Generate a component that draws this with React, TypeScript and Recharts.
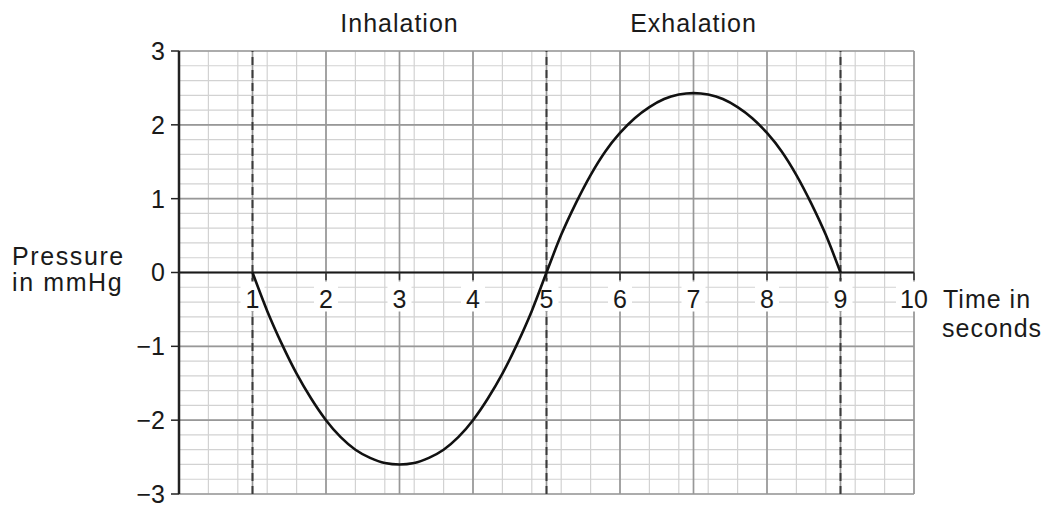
import React from 'react';
import {
  ComposedChart,
  Line,
  XAxis,
  YAxis,
  CartesianGrid,
  ReferenceLine,
  ReferenceDot,
} from 'recharts';

// ---- Data ----
const timeValues = [
  1, 1.2, 1.4, 1.6, 1.8, 2, 2.2, 2.4, 2.6, 2.8, 3, 3.2, 3.4, 3.6, 3.8, 4, 4.2, 4.4, 4.6, 4.8,
  5, 5.2, 5.4, 5.6, 5.8, 6, 6.2, 6.4, 6.6, 6.8, 7, 7.2, 7.4, 7.6, 7.8, 8, 8.2, 8.4, 8.6, 8.8, 9,
];
const pressureValues = [
  0, -0.52, -0.97, -1.37, -1.71, -2.0, -2.23, -2.4, -2.51, -2.58, -2.6, -2.58, -2.51, -2.4, -2.23,
  -2.0, -1.71, -1.37, -0.97, -0.52,
  0, 0.51, 0.94, 1.32, 1.64, 1.89, 2.09, 2.24, 2.35, 2.41, 2.43, 2.41, 2.35, 2.24, 2.09, 1.89, 1.64,
  1.32, 0.94, 0.51, 0,
];
const xTickValues = [1, 2, 3, 4, 5, 6, 7, 8, 9, 10];
const xTickMarkValues = [0, 1, 2, 3, 4, 5, 6, 7, 8, 9, 10];
const yTickValues = [-3, -2, -1, 0, 1, 2, 3];
const phaseBoundaries = [1, 5, 9];
const phaseNames = ['Inhalation', 'Exhalation'];
const phaseCentres = [3, 7];
const yAxisTitle = ['Pressure', 'in mmHg'];
const xAxisTitle = ['Time in', 'seconds'];

const majorXValues = [0, 1, 2, 3, 4, 5, 6, 7, 8, 9, 10];
const majorYValues = [-3, -2, -1, 0, 1, 2, 3];
const minorXValues = Array.from({ length: 51 }, (_, i) => Math.round(i * 2) / 10);
const minorYValues = Array.from({ length: 31 }, (_, i) => Math.round(-30 + i * 2) / 10);

const chartData = timeValues.map((t, i) => ({ time: t, pressure: pressureValues[i] }));

const FONT = '"Liberation Sans", Arial, Helvetica, sans-serif';
const FONT_SIZE = 25;
const TEXT_COLOR = '#1a1a1a';

const fmt = (v: number) => (v < 0 ? `\u2212${Math.abs(v)}` : `${v}`);

const XTickLabel = (props: any) => {
  const { viewBox, text } = props;
  if (!viewBox) return null;
  const cx = viewBox.x + viewBox.width / 2;
  const cy = viewBox.y + viewBox.height / 2;
  const w = String(text).length > 1 ? 36 : 24;
  return (
    <g>
      <rect x={cx - w / 2} y={cy + 9} width={w} height={30} fill="#ffffff" />
      <text
        x={cx}
        y={cy + 35}
        textAnchor="middle"
        fontFamily={FONT}
        fontSize={FONT_SIZE}
        fill={TEXT_COLOR}
      >
        {text}
      </text>
    </g>
  );
};

const PhaseLabel = (props: any) => {
  const { viewBox, text } = props;
  if (!viewBox) return null;
  const cx = viewBox.x + viewBox.width / 2;
  const cy = viewBox.y + viewBox.height / 2;
  return (
    <text
      x={cx}
      y={cy - 19}
      textAnchor="middle"
      fontFamily={FONT}
      fontSize={FONT_SIZE}
      letterSpacing={1}
      fill={TEXT_COLOR}
    >
      {text}
    </text>
  );
};

const YTitle = (props: any) => {
  const { viewBox } = props;
  if (!viewBox) return null;
  const cx = viewBox.x + viewBox.width / 2;
  const cy = viewBox.y + viewBox.height / 2;
  return (
    <text fontFamily={FONT} fontSize={FONT_SIZE} letterSpacing={1.6} fill={TEXT_COLOR}>
      <tspan x={cx - 167} y={cy - 8}>
        {yAxisTitle[0]}
      </tspan>
      <tspan x={cx - 167} y={cy + 18}>
        {yAxisTitle[1]}
      </tspan>
    </text>
  );
};

const XTitle = (props: any) => {
  const { viewBox } = props;
  if (!viewBox) return null;
  const cx = viewBox.x + viewBox.width / 2;
  const cy = viewBox.y + viewBox.height / 2;
  return (
    <text fontFamily={FONT} fontSize={FONT_SIZE} letterSpacing={1} fill={TEXT_COLOR}>
      <tspan x={cx + 29} y={cy + 35}>
        {xAxisTitle[0]}
      </tspan>
      <tspan x={cx + 28} y={cy + 64}>
        {xAxisTitle[1]}
      </tspan>
    </text>
  );
};

export default function App() {
  return (
    <div style={{ width: 1040, height: 500, background: '#ffffff' }}>
      <ComposedChart
        width={1040}
        height={500}
        data={chartData}
        margin={{ top: 43, right: 134, bottom: 14, left: 0 }}
      >
        <CartesianGrid
          verticalValues={minorXValues}
          horizontalValues={minorYValues}
          stroke="#d2d2d2"
          strokeWidth={1.2}
        />
        <CartesianGrid
          verticalValues={majorXValues}
          horizontalValues={majorYValues}
          stroke="#989898"
          strokeWidth={1.7}
        />
        <XAxis dataKey="time" type="number" domain={[0, 10]} hide />
        <YAxis
          type="number"
          domain={[-3, 3]}
          ticks={yTickValues}
          interval={0}
          width={171}
          tickFormatter={fmt}
          tickSize={8}
          tickMargin={6}
          axisLine={{ stroke: '#222', strokeWidth: 2.5 }}
          tickLine={{ stroke: '#222', strokeWidth: 1.5 }}
          tick={{ fill: TEXT_COLOR, fontSize: FONT_SIZE, fontFamily: FONT }}
        />
        {phaseBoundaries.map((b) => (
          <ReferenceLine
            key={`pb-${b}`}
            x={b}
            stroke="#3a3a3a"
            strokeWidth={2}
            strokeDasharray="8 5"
          />
        ))}
        <ReferenceLine y={0} stroke="#1a1a1a" strokeWidth={2.2} />
        {xTickMarkValues.map((k) => (
          <ReferenceLine
            key={`tm-${k}`}
            segment={[
              { x: k, y: 0 },
              { x: k, y: -0.1 },
            ]}
            stroke="#333"
            strokeWidth={1.5}
          />
        ))}
        {xTickValues.map((k) => (
          <ReferenceDot
            key={`xl-${k}`}
            x={k}
            y={0}
            r={0}
            fill="none"
            stroke="none"
            label={<XTickLabel text={k} />}
          />
        ))}
        {phaseNames.map((n, i) => (
          <ReferenceDot
            key={`ph-${n}`}
            x={phaseCentres[i]}
            y={3}
            r={0}
            fill="none"
            stroke="none"
            label={<PhaseLabel text={n} />}
          />
        ))}
        <ReferenceDot x={0} y={0} r={0} fill="none" stroke="none" label={<YTitle />} />
        <ReferenceDot x={10} y={0} r={0} fill="none" stroke="none" label={<XTitle />} />
        <Line
          type="monotone"
          dataKey="pressure"
          stroke="#111111"
          strokeWidth={2.6}
          dot={false}
          activeDot={false}
          isAnimationActive={false}
          {...({ zIndex: 3000 } as any)}
        />
      </ComposedChart>
    </div>
  );
}
